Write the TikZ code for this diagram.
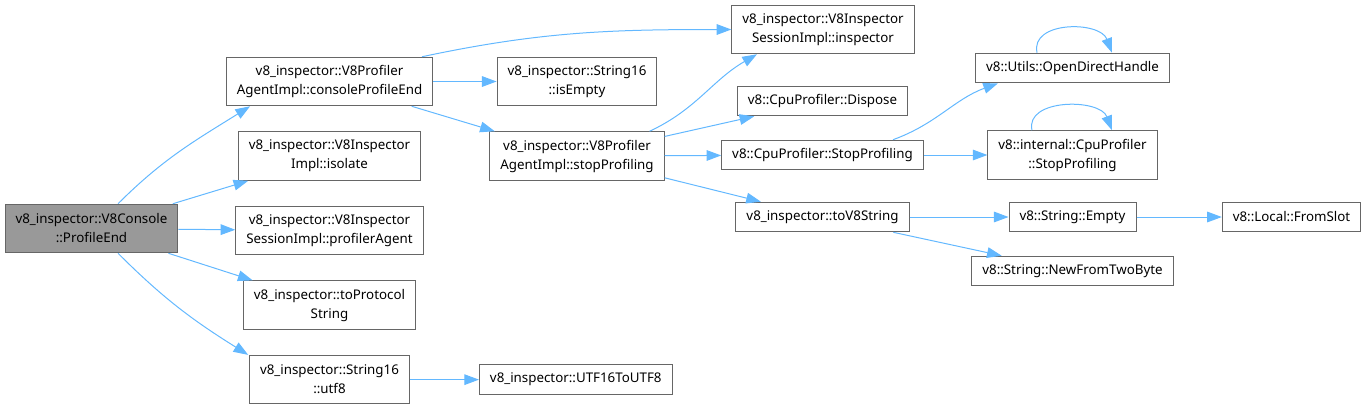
\documentclass[tikz,border=0pt]{standalone}
\usepackage{fontspec}
\setmainfont{Noto Sans}
\usepackage{tikz}
\usetikzlibrary{arrows.meta,positioning}
\definecolor{edgeblue}{HTML}{63B8FF}
\definecolor{boxgray}{HTML}{666666}
\definecolor{rootfill}{HTML}{999999}

\begin{document}
\begin{tikzpicture}[
  x=0.75pt,y=-0.75pt,
  func/.style={draw=boxgray,fill=white,rectangle,line width=0.75pt,font=\fontsize{10pt}{14.25pt}\selectfont,align=center,inner xsep=7.9pt,inner ysep=2pt,minimum height=22.2pt},
  func2/.style={func,minimum height=36.4pt},
  root/.style={func2,fill=rootfill},
  arr/.style={-{Triangle[length=11pt,width=8pt]},line width=0.75pt,edgeblue}
]
\useasboundingbox (0,0) rectangle (1366,405);

% Caller
\node[root] (profileend) at (91.5,228.5) {v8\_inspector::V8Console\\::ProfileEnd};

% Direct callees
\node[func2] (cpe) at (329.5,81.5) {v8\_inspector::V8Profiler\\AgentImpl::consoleProfileEnd};
\node[func2,below=18.75pt of cpe] (isolate) {v8\_inspector::V8Inspector\\Impl::isolate};
\node[func2,below=18.75pt of isolate] (agent) {v8\_inspector::V8Inspector\\SessionImpl::profilerAgent};
\node[func2,below=18.75pt of agent] (proto) {v8\_inspector::toProtocol\\String};
\node[func2,below=18.75pt of proto] (utf8) {v8\_inspector::String16\\::utf8};

% Second level
\node[func2] (isempty) at (577,81.5) {v8\_inspector::String16\\::isEmpty};
\node[func2,below=18.75pt of isempty] (stopprof) {v8\_inspector::V8Profiler\\AgentImpl::stopProfiling};
\node[func,right=51.75pt of utf8] (utf16) {v8\_inspector::UTF16ToUTF8};

% Third level
\node[func2] (inspector) at (823,29.5) {v8\_inspector::V8Inspector\\SessionImpl::inspector};
\node[func] (dispose) at (822.5,101) {v8::CpuProfiler::Dispose};
\node[func] (cpustop) at (822.5,155) {v8::CpuProfiler::StopProfiling};
\node[func] (tov8) at (822.5,217) {v8\_inspector::toV8String};

% Fourth level
\node[func] (opendh) at (1072.5,68) {v8::Utils::OpenDirectHandle};
\node[func2] (intstop) at (1072.5,155) {v8::internal::CpuProfiler\\::StopProfiling};
\node[func] (strempty) at (1072.5,217) {v8::String::Empty};
\node[func] (newtwo) at (1072.5,271) {v8::String::NewFromTwoByte};
\node[func] (fromslot) at (1291.5,217) {v8::Local::FromSlot};

% Calls
\draw[arr] ([xshift=19.9pt]profileend.north) to[out=45,in=-148] ([xshift=-59.6pt]cpe.south);
\draw[arr] (profileend) -- (isolate);
\draw[arr] (profileend) -- (agent);
\draw[arr] (profileend) -- (proto);
\draw[arr] ([xshift=19.9pt]profileend.south) to[out=-45,in=148] ([xshift=-61pt]utf8.north);

\draw[arr] ([xshift=69.4pt]cpe.north) to[out=12,in=180] (inspector.west);
\draw[arr] (cpe) -- (isempty);
\draw[arr] (cpe) -- (stopprof);
\draw[arr] (utf8) -- (utf16);

\draw[arr] ([xshift=54.4pt]stopprof.north) to[out=25,in=-150] ([xshift=-49.5pt]inspector.south);
\draw[arr] (stopprof) -- (dispose);
\draw[arr] (stopprof) -- (cpustop);
\draw[arr] (stopprof) -- (tov8);

\draw[arr] ([xshift=52.9pt]cpustop.north) to[out=20,in=-160] ([xshift=-55.9pt]opendh.south);
\draw[arr] (cpustop) -- (intstop);
\draw[arr] ([xshift=-26.6pt]opendh.north) .. controls +(-7,-32) and +(-12,-32) .. ([xshift=29.6pt]opendh.north);
\draw[arr] ([xshift=-30.4pt]intstop.north) .. controls +(-7,-32) and +(-12,-32) .. ([xshift=29.6pt]intstop.north);

\draw[arr] (tov8) -- (strempty);
\draw[arr] (tov8) -- (newtwo);
\draw[arr] (strempty) -- (fromslot);

\end{tikzpicture}
\end{document}
